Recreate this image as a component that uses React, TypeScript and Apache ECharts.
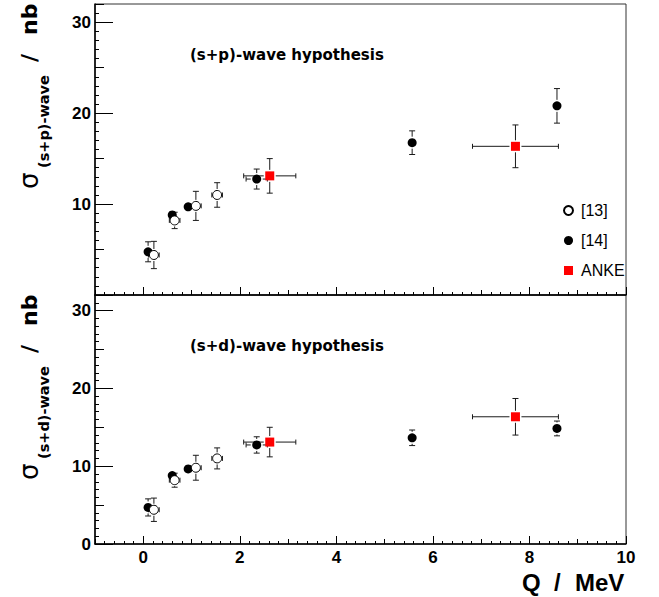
import React, { useEffect, useRef } from 'react';
import * as echarts from 'echarts';

// ---- data (Q in MeV, sigma in nb) ----
const qOpen = [0.22, 0.65, 1.09, 1.53];
const sigOpen = [4.4, 8.2, 9.8, 11.0];
const errOpenY = [1.5, 0.9, 1.6, 1.35];
const errOpenX = [0.11, 0.11, 0.11, 0.11];

const qFilled = [0.1, 0.6, 0.93, 2.35, 5.57, 8.57];
const sigFilledSP = [4.75, 8.8, 9.7, 12.75, 16.75, 20.8];
const errFilledSP = [1.1, 0.3, 0.3, 1.1, 1.3, 1.9];
const sigFilledSD = [4.7, 8.8, 9.65, 12.73, 13.65, 14.85];
const errFilledSD = [1.1, 0.3, 0.3, 1.05, 1.0, 0.95];
const errFilledX = [0, 0, 0, 0.22, 0, 0];

const qAnke = [2.62, 7.71];
const sigAnke = [13.1, 16.35];
const errAnkeY = [1.9, 2.35];
const errAnkeX = [0.54, 0.89];

const xMajor = [0, 2, 4, 6, 8, 10];
const yMajor = [0, 10, 20, 30];
const panelTitles = ['(s+p)-wave hypothesis', '(s+d)-wave hypothesis'];
const panelSubs = ['(s+p)-wave', '(s+d)-wave'];

const LEFT = 95;
const WIDTH = 531;
const grids = [
  { top: 4, height: 291 },
  { top: 295, height: 249 },
];

const LAB = 'Liberation Sans';
const DJ = 'DejaVu Sans';

function renderErr(params: any, api: any) {
  const x = api.value(0) as number;
  const y = api.value(1) as number;
  const ex = api.value(2) as number;
  const ey = api.value(3) as number;
  const c = api.coord([x, y]);
  const gap = 6;
  const capV = 3;
  const capH = 2.5;
  const st = { stroke: '#1a1a1a', lineWidth: 1 };
  const ch: any[] = [];
  const seg = (x1: number, y1: number, x2: number, y2: number) =>
    ch.push({ type: 'line', shape: { x1, y1, x2, y2 }, style: st });
  if (ey > 0) {
    const yt = api.coord([x, y + ey])[1];
    const yb = api.coord([x, y - ey])[1];
    if (c[1] - yt > gap) seg(c[0], c[1] - gap, c[0], yt);
    if (yb - c[1] > gap) seg(c[0], c[1] + gap, c[0], yb);
    seg(c[0] - capV, yt, c[0] + capV, yt);
    seg(c[0] - capV, yb, c[0] + capV, yb);
  }
  if (ex > 0) {
    const xl = api.coord([x - ex, y])[0];
    const xr = api.coord([x + ex, y])[0];
    if (c[0] - xl > gap) seg(c[0] - gap, c[1], xl, c[1]);
    if (xr - c[0] > gap) seg(c[0] + gap, c[1], xr, c[1]);
    seg(xl, c[1] - capH, xl, c[1] + capH);
    seg(xr, c[1] - capH, xr, c[1] + capH);
  }
  return { type: 'group', children: ch };
}

function buildOption() {
  const xAxes: any[] = [];
  const yAxes: any[] = [];
  const series: any[] = [];
  const graphic: any[] = [];

  grids.forEach((g, gi) => {
    const tickStyle = { color: '#000', width: 1 };
    // x axes: major (even, with labels), mid (integers), minor (0.2)
    xAxes.push({
      type: 'value', gridIndex: gi, position: 'bottom', min: -1, max: 10, interval: 1,
      axisLine: { show: true, onZero: false, lineStyle: { color: '#000', width: 1.5 } },
      axisTick: { show: true, inside: true, length: 8, customValues: xMajor, lineStyle: tickStyle },
      axisLabel: {
        show: gi === 1, customValues: xMajor, margin: 5,
        formatter: (v: number) => (v >= 0 && Math.abs(v % 2) < 1e-9 ? String(v) : ''),
        fontFamily: LAB, fontWeight: 'bold', fontSize: 17, color: '#000',
      },
      splitLine: { show: false },
    });
    xAxes.push({
      type: 'value', gridIndex: gi, position: 'bottom', min: -1, max: 10, interval: 1,
      axisLine: { show: false, onZero: false },
      axisTick: { show: true, inside: true, length: 5, lineStyle: tickStyle },
      axisLabel: { show: false }, splitLine: { show: false },
    });
    xAxes.push({
      type: 'value', gridIndex: gi, position: 'bottom', min: -1, max: 10, interval: 0.2,
      axisLine: { show: false, onZero: false },
      axisTick: { show: true, inside: true, length: 3, lineStyle: tickStyle },
      axisLabel: { show: false }, splitLine: { show: false },
    });
    // y axes: major 10, mid 5, minor 1
    yAxes.push({
      type: 'value', gridIndex: gi, position: 'left', min: 0, max: 32, interval: 10,
      axisLine: { show: true, onZero: false, lineStyle: { color: '#000', width: 1.5 } },
      axisTick: { show: true, inside: true, length: 18, customValues: yMajor, lineStyle: tickStyle },
      axisLabel: {
        show: true, margin: 4,
        customValues: gi === 0 ? [10, 20, 30] : yMajor,
        formatter: (v: number) => ((gi === 0 && v === 0) || v > 30 ? '' : String(v)),
        fontFamily: LAB, fontWeight: 'bold', fontSize: 17, color: '#000',
      },
      splitLine: { show: false },
    });
    yAxes.push({
      type: 'value', gridIndex: gi, position: 'left', min: 0, max: 32, interval: 5,
      axisLine: { show: false, onZero: false },
      axisTick: { show: true, inside: true, length: 9, lineStyle: tickStyle },
      axisLabel: { show: false }, splitLine: { show: false },
    });
    yAxes.push({
      type: 'value', gridIndex: gi, position: 'left', min: 0, max: 32, interval: 1,
      axisLine: { show: false, onZero: false },
      axisTick: { show: true, inside: true, length: 4, lineStyle: tickStyle },
      axisLabel: { show: false }, splitLine: { show: false },
    });

    const xi = gi * 3;
    const yi = gi * 3;
    const sigF = gi === 0 ? sigFilledSP : sigFilledSD;
    const errF = gi === 0 ? errFilledSP : errFilledSD;

    const errS = (name: string, xs: number[], ys: number[], exs: number[], eys: number[]) => ({
      type: 'custom', name, xAxisIndex: xi, yAxisIndex: yi, silent: true, z: 2,
      encode: { x: 0, y: 1 },
      data: xs.map((x, i) => [x, ys[i], exs[i], eys[i]]),
      renderItem: renderErr,
    });
    series.push(errS('err14', qFilled, sigF, errFilledX, errF));
    series.push(errS('err13', qOpen, sigOpen, errOpenX, errOpenY));
    series.push(errS('errAnke', qAnke, sigAnke, errAnkeX, errAnkeY));

    series.push({
      type: 'scatter', name: '[14]', xAxisIndex: xi, yAxisIndex: yi, z: 3, silent: true,
      symbol: 'circle', symbolSize: 9, itemStyle: { color: '#000', opacity: 1 },
      data: qFilled.map((x, i) => [x, sigF[i]]),
    });
    series.push({
      type: 'scatter', name: '[13]', xAxisIndex: xi, yAxisIndex: yi, z: 4, silent: true,
      symbol: 'circle', symbolSize: 9,
      itemStyle: { color: '#fff', borderColor: '#000', borderWidth: 1, opacity: 1 },
      data: qOpen.map((x, i) => [x, sigOpen[i]]),
    });
    series.push({
      type: 'scatter', name: 'ANKE', xAxisIndex: xi, yAxisIndex: yi, z: 5, silent: true,
      symbol: 'rect', symbolSize: 9, itemStyle: { color: '#ff0000', opacity: 1 },
      data: qAnke.map((x, i) => [x, sigAnke[i]]),
    });

    const T = g.top;
    // panel title
    graphic.push({
      type: 'text', x: 190, y: T + 51, silent: true,
      style: {
        text: panelTitles[gi], fill: '#000', fontFamily: DJ, fontWeight: 'bold', fontSize: 15,
        align: 'left', verticalAlign: 'middle', textAlign: 'left', textVerticalAlign: 'middle',
      },
    });
    // y-axis title pieces (rotated, reading bottom to top)
    const rot = (text: string, x: number, y: number, size: number, weight: string) => ({
      type: 'text', x, y, rotation: Math.PI / 2, silent: true,
      style: {
        text, fill: '#000', fontFamily: DJ, fontWeight: weight, fontSize: size,
        align: 'left', verticalAlign: 'middle', textAlign: 'left', textVerticalAlign: 'middle',
      },
    });
    graphic.push(rot('σ', 29, T + 185, 26, 'normal'));
    graphic.push(rot(panelSubs[gi], 43.5, T + 164, 14.5, 'bold'));
    graphic.push(rot('/', 29.4, T + 58, 22, 'bold'));
    graphic.push(rot('nb', 29.4, T + 31, 22, 'bold'));
  });

  // x-axis title
  const xt = (text: string, x: number) => ({
    type: 'text', x, y: 582, silent: true,
    style: {
      text, fill: '#000', fontFamily: LAB, fontWeight: 'bold', fontSize: 24,
      align: 'left', verticalAlign: 'middle', textAlign: 'left', textVerticalAlign: 'middle',
    },
  });
  graphic.push(xt('Q', 522));
  graphic.push(xt('/', 554));
  graphic.push(xt('MeV', 575));

  return {
    animation: false,
    backgroundColor: '#fff',
    grid: grids.map((g) => ({
      left: LEFT, width: WIDTH, top: g.top, height: g.height,
      show: true, borderColor: '#333', borderWidth: 1, backgroundColor: 'transparent',
      containLabel: false,
    })),
    xAxis: xAxes,
    yAxis: yAxes,
    legend: {
      orient: 'vertical', left: 558, top: 197, itemWidth: 9, itemHeight: 9, itemGap: 13,
      selectedMode: false,
      textStyle: { fontFamily: LAB, fontSize: 16, color: '#000', lineHeight: 17, padding: [0, 0, 0, 3] },
      data: [
        { name: '[13]', icon: 'circle' },
        { name: '[14]', icon: 'circle' },
        { name: 'ANKE', icon: 'rect' },
      ],
    },
    graphic,
    series,
  };
}

export default function App() {
  const ref = useRef<HTMLDivElement>(null);
  useEffect(() => {
    document.body.style.margin = '0';
    const chart = echarts.init(ref.current as HTMLDivElement, null, { renderer: 'svg' });
    chart.setOption(buildOption() as any);
    return () => chart.dispose();
  }, []);
  return <div ref={ref} style={{ width: 659, height: 597 }} />;
}
